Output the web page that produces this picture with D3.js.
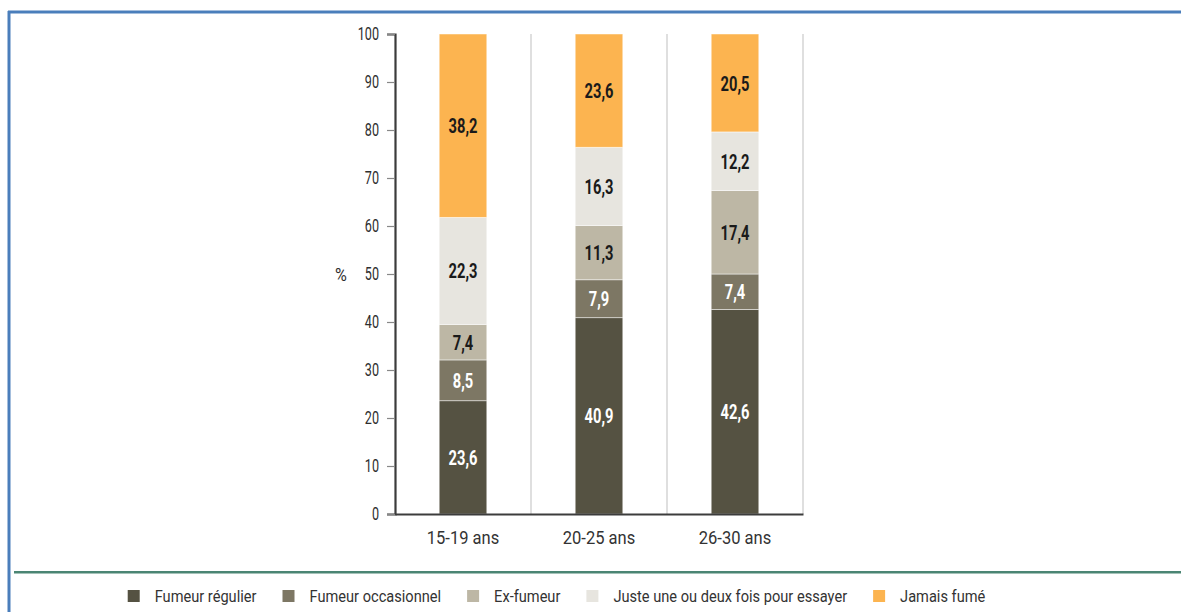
<!DOCTYPE html>
<html>
<head>
<meta charset="utf-8">
<script src="https://cdn.jsdelivr.net/npm/d3@7"></script>
<style>
  html, body { margin: 0; padding: 0; background: #fff; }
  svg { display: block; }
  text { font-family: Roboto, "Liberation Sans", sans-serif; }
</style>
</head>
<body>
<svg id="chart" width="1181" height="612"></svg>
<script>
// ---- Data ----
const categories = ["15-19 ans", "20-25 ans", "26-30 ans"];
const seriesNames = ["Fumeur régulier", "Fumeur occasionnel", "Ex-fumeur", "Juste une ou deux fois pour essayer", "Jamais fumé"];
const fumeurRegulier    = [23.6, 40.9, 42.6];
const fumeurOccasionnel = [8.5, 7.9, 7.4];
const exFumeur          = [7.4, 11.3, 17.4];
const justeUneOuDeux    = [22.3, 16.3, 12.2];
const jamaisFume        = [38.2, 23.6, 20.5];
const yTicks = [0, 10, 20, 30, 40, 50, 60, 70, 80, 90, 100];
const yLabel = "%";

const seriesValues = [fumeurRegulier, fumeurOccasionnel, exFumeur, justeUneOuDeux, jamaisFume];
const colors = ["#555242", "#7d7764", "#bdb7a5", "#e7e5df", "#fcb450"];
const labelColors = ["#ffffff", "#ffffff", "#1a1a1a", "#1a1a1a", "#1a1a1a"];

const table = categories.map((c, i) => {
  const row = { cat: c };
  seriesNames.forEach((s, j) => row[s] = seriesValues[j][i]);
  return row;
});

const svg = d3.select("#chart");

// horizontally condense text (emulates a condensed typeface)
function condense(sel, sx) {
  sel.each(function () {
    const t = d3.select(this);
    const x0 = +(t.attr("x") || 0);
    t.attr("x", x0 / sx).attr("transform", `scale(${sx},1)`);
  });
}

// ---- Frame ----
svg.append("line").attr("x1", 8).attr("x2", 1181).attr("y1", 12).attr("y2", 12)
  .attr("stroke", "#4a7ebb").attr("stroke-width", 3);
svg.append("line").attr("x1", 9).attr("x2", 9).attr("y1", 11).attr("y2", 612)
  .attr("stroke", "#4a7ebb").attr("stroke-width", 3);
svg.append("line").attr("x1", 14).attr("x2", 1181).attr("y1", 572.3).attr("y2", 572.3)
  .attr("stroke", "#4b8573").attr("stroke-width", 2.5);

// ---- Scales ----
const plotLeft = 395, plotRight = 803, plotTop = 34, plotBottom = 514;
const x = d3.scaleBand().domain(categories).range([plotLeft, plotRight]).padding(0);
const y = d3.scaleLinear().domain([0, 100]).range([plotBottom, plotTop]);
const barW = x.bandwidth() * 0.35;

// vertical separators
svg.append("g").selectAll("line")
  .data(categories)
  .join("line")
  .attr("x1", d => x(d) + x.bandwidth())
  .attr("x2", d => x(d) + x.bandwidth())
  .attr("y1", y(100)).attr("y2", y(0))
  .attr("stroke", "#d4d4d4").attr("stroke-width", 1.5);

// ---- Stacked bars ----
const stack = d3.stack().keys(seriesNames)(table);

const layers = svg.append("g").selectAll("g")
  .data(stack)
  .join("g")
  .attr("fill", (d, i) => colors[i]);

layers.selectAll("rect")
  .data(d => d)
  .join("rect")
  .attr("x", d => x(d.data.cat) + (x.bandwidth() - barW) / 2)
  .attr("width", barW)
  .attr("y", d => y(Math.min(d[1], 100)))
  .attr("height", d => y(d[0]) - y(Math.min(d[1], 100)))
  .attr("stroke", "#ffffff")
  .attr("stroke-opacity", 0.6)
  .attr("stroke-width", 0.8);

const fmt = v => String(v.toFixed(1)).replace(".", ",");

const barLabels = svg.append("g").selectAll("g")
  .data(stack)
  .join("g")
  .attr("fill", (d, i) => labelColors[i])
  .selectAll("text")
  .data(d => d.map(p => ({ p, key: d.key })))
  .join("text")
  .attr("x", d => x(d.p.data.cat) + x.bandwidth() / 2)
  .attr("y", d => (y(d.p[0]) + y(Math.min(d.p[1], 100))) / 2)
  .attr("dy", "0.36em")
  .attr("text-anchor", "middle")
  .attr("font-size", 21)
  .attr("font-weight", "bold")
  .text(d => fmt(d.p.data[d.key]));
condense(barLabels, 0.7);

// ---- Axes ----
const yAxis = svg.append("g")
  .attr("transform", `translate(${plotLeft},0)`)
  .call(d3.axisLeft(y).tickValues(yTicks).tickSize(8).tickPadding(8).tickFormat(d3.format("d")));
yAxis.select(".domain").attr("stroke", "#3c3c3c").attr("stroke-width", 2.2);
yAxis.selectAll(".tick line").attr("stroke", "#888").attr("stroke-width", 1.2);
yAxis.selectAll(".tick text").attr("fill", "#2e2e2e").attr("font-size", 18)
  .attr("font-family", "Roboto, sans-serif");
condense(yAxis.selectAll(".tick text"), 0.7);

const xAxis = svg.append("g")
  .attr("transform", `translate(0,${plotBottom})`)
  .call(d3.axisBottom(x).tickSize(0).tickPadding(17));
xAxis.select(".domain").attr("stroke", "#3c3c3c").attr("stroke-width", 2.2);
xAxis.selectAll(".tick text").attr("fill", "#333").attr("font-size", 19)
  .attr("font-family", "Roboto, sans-serif");
condense(xAxis.selectAll(".tick text"), 0.87);

const pct = svg.append("text")
  .attr("x", 341).attr("y", y(50)).attr("dy", "0.36em")
  .attr("text-anchor", "middle").attr("font-size", 19).attr("fill", "#2e2e2e")
  .text(yLabel);
condense(pct, 0.85);

// ---- Legend ----
const sxL = 0.86;
const legend = svg.append("g");
const items = legend.selectAll("g").data(seriesNames).join("g");
items.append("rect").attr("width", 12).attr("height", 12).attr("y", -6)
  .attr("fill", (d, i) => colors[i]);
const legTexts = items.append("text").attr("x", 27).attr("dy", "0.36em")
  .attr("font-size", 17).attr("fill", "#333").text(d => d);
condense(legTexts, sxL);

const gap = 26;
const widths = [];
items.each(function () {
  const w = 27 + sxL * d3.select(this).select("text").node().getComputedTextLength();
  widths.push(w);
});
const total = d3.sum(widths) + gap * (widths.length - 1);
const start = 556.5 - total / 2;
items.attr("transform", (d, i) => {
  const tx = start + d3.sum(widths.slice(0, i)) + gap * i;
  return `translate(${tx},596)`;
});
</script>
</body>
</html>
